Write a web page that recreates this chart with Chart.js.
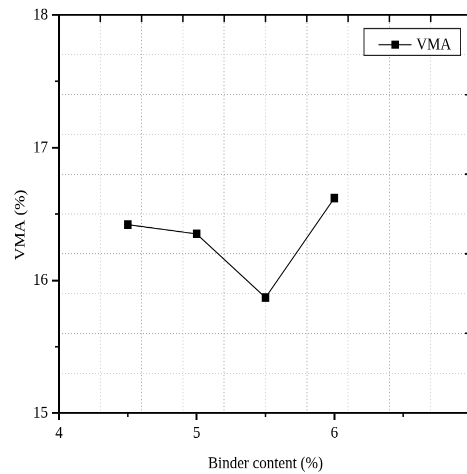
<!DOCTYPE html>
<html><head><meta charset="utf-8">
<script src="https://cdn.jsdelivr.net/npm/chart.js@4.4.0/dist/chart.umd.min.js"></script>
<style>
html,body{margin:0;padding:0;overflow:hidden;background:#fff;width:467px;height:474px}
canvas{display:block;transform:scaleY(1.1505);transform-origin:0 0}
</style>
</head><body>
<canvas id="c" width="480" height="412"></canvas>
<script>
const binder = [4.5, 5.0, 5.5, 6.0];
const vma = [16.42, 16.35, 15.87, 16.62];
const xTicks = [4, 5, 6];
const yTicks = [15, 16, 17, 18];
const xMinor = [4.5, 5.5, 6.5];
const yMinor = [15.5, 16.5, 17.5];
const xGrid = [4.3, 4.6, 4.9, 5.2, 5.5, 5.8, 6.1, 6.4, 6.7];
const xGridMajor = [4.6, 5.2, 5.8, 6.4];
const yGrid = [15.3, 15.6, 15.9, 16.2, 16.5, 16.8, 17.1, 17.4, 17.7];
const yGridMajor = [15.6, 16.2, 16.8, 17.4];
const seriesLabel = 'VMA';
const xTitle = 'Binder content (%)';
const yTitle = 'VMA (%)';

const FONT = 'Liberation Serif';
const fnt = {family: FONT, size: 15};

const extras = {
  id: 'extras',
  afterDraw(chart) {
    const {ctx, chartArea: a, scales} = chart;
    ctx.save();
    ctx.strokeStyle = '#000';
    ctx.lineWidth = 1.5;
    ctx.beginPath();
    xMinor.forEach(v => { const p = scales.x.getPixelForValue(v); ctx.moveTo(p, a.bottom); ctx.lineTo(p, a.bottom + 3.5); });
    yMinor.forEach(v => { const p = scales.y.getPixelForValue(v); ctx.moveTo(a.left, p); ctx.lineTo(a.left - 4, p); });
    xGrid.forEach(v => { const p = scales.x2.getPixelForValue(v); ctx.moveTo(p, a.top); ctx.lineTo(p, a.top + 6.1); });
    yGridMajor.forEach(v => { const p = scales.y2.getPixelForValue(v); ctx.moveTo(a.right, p); ctx.lineTo(a.right - 7, p); });
    ctx.stroke();
    // y axis title
    ctx.fillStyle = '#000';
    ctx.font = '15px ' + FONT;
    ctx.textAlign = 'center';
    ctx.textBaseline = 'middle';
    ctx.save();
    ctx.translate(20.5, a.top + (a.bottom - a.top) * 0.5275);
    ctx.rotate(-Math.PI / 2);
    ctx.fillText(yTitle, 0, 0);
    ctx.restore();
    // legend
    const bx = a.right - 108.5, by = a.top + 11.3, bw = 96.5, bh = 23.2;
    ctx.fillStyle = '#fff';
    ctx.fillRect(bx, by, bw, bh);
    ctx.lineWidth = 1;
    ctx.strokeStyle = '#222';
    ctx.strokeRect(bx + 0.5, by + 0.5, bw, bh);
    const ly = by + 14.5;
    ctx.lineWidth = 1.2;
    ctx.beginPath();
    ctx.moveTo(bx + 15, ly); ctx.lineTo(bx + 48, ly);
    ctx.stroke();
    ctx.fillStyle = '#000';
    ctx.fillRect(bx + 31.7 - 3.8, ly - 3.5, 7.6, 7);
    ctx.textBaseline = 'alphabetic';
    ctx.textAlign = 'left';
    ctx.fillText(chart.data.datasets[0].label, bx + 52.7, by + 18.5);
    ctx.restore();
  }
};

new Chart(document.getElementById('c'), {
  type: 'line',
  data: {
    datasets: [{
      label: seriesLabel,
      data: binder.map((x, i) => ({x, y: vma[i]})),
      borderColor: '#000',
      borderWidth: 1,
      backgroundColor: '#000',
      pointStyle: 'rect',
      pointRadius: 4.6,
      pointBorderWidth: 1,
      pointBorderColor: '#000',
      pointBackgroundColor: '#000',
      tension: 0,
      fill: false
    }]
  },
  options: {
    responsive: false,
    devicePixelRatio: 2,
    animation: false,
    events: [],
    layout: {padding: 0},
    plugins: {legend: {display: false}, tooltip: {enabled: false}},
    scales: {
      x: {
        type: 'linear', position: 'bottom', min: 4, max: 7,
        afterBuildTicks: s => { s.ticks = xTicks.map(v => ({value: v})); },
        afterFit: s => { s.height = 53; },
        grid: {drawOnChartArea: false, drawTicks: true, tickLength: 6, color: '#000', lineWidth: 2},
        border: {display: true, color: '#000', width: 1.8},
        ticks: {font: fnt, color: '#000', padding: 2.5, maxRotation: 0, autoSkip: false},
        title: {display: true, text: xTitle, font: fnt, color: '#000', padding: {top: 0, bottom: 0}}
      },
      x2: {
        type: 'linear', position: 'top', min: 4, max: 7,
        afterBuildTicks: s => { s.ticks = xGrid.map(v => ({value: v})); },
        afterFit: s => { s.height = 11.3; },
        grid: {drawOnChartArea: true, drawTicks: false, lineWidth: 1,
          color: c => (c.tick && xGridMajor.includes(c.tick.value)) ? '#a8a8a8' : '#d0d0d0'},
        border: {display: true, color: '#000', width: 1.8, dash: [1, 2]},
        ticks: {display: false}
      },
      y: {
        type: 'linear', position: 'left', min: 15, max: 18,
        afterBuildTicks: s => { s.ticks = yTicks.map(v => ({value: v})); },
        afterFit: s => { s.width = 59; },
        grid: {drawOnChartArea: false, drawTicks: true, tickLength: 7, color: '#000', lineWidth: 1.8},
        border: {display: true, color: '#000', width: 2},
        ticks: {font: fnt, color: '#000', padding: 4, autoSkip: false},
        title: {display: false}
      },
      y2: {
        type: 'linear', position: 'right', min: 15, max: 18,
        afterBuildTicks: s => { s.ticks = yGrid.map(v => ({value: v})); },
        afterFit: s => { s.width = 8; },
        grid: {drawOnChartArea: true, drawTicks: false, lineWidth: 1,
          color: c => (c.tick && yGridMajor.includes(c.tick.value)) ? '#a8a8a8' : '#d0d0d0'},
        border: {display: true, color: '#000', width: 2, dash: [1, 2]},
        ticks: {display: false}
      }
    }
  },
  plugins: [extras]
});
</script>
</body></html>
